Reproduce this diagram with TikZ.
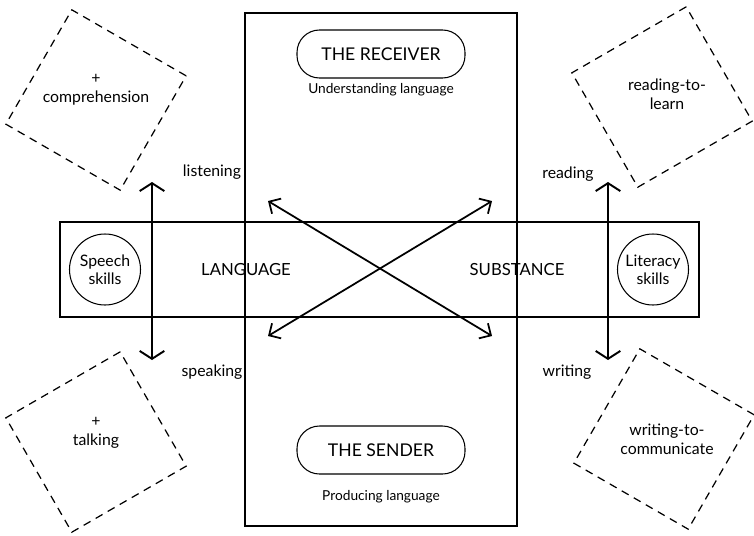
\documentclass[tikz,border=0pt]{standalone}
\usepackage{fontspec}
\setmainfont{Lato}
\usetikzlibrary{arrows.meta}

\begin{document}
\begin{tikzpicture}[
    thinbox/.style={draw,line width=0.6pt},
    dashsquare/.style={draw,dash pattern=on 4.5pt off 3.4pt,line width=0.7pt,minimum size=2.64cm,inner sep=0pt},
    skill/.style={draw,circle,line width=0.6pt,minimum size=1.42cm,inner sep=0pt,align=center,font=\fontsize{9}{10.4}\selectfont},
    pill/.style={draw,rounded corners=0.45cm,line width=0.6pt,minimum width=3.36cm,minimum height=0.96cm,font=\fontsize{10}{12}\selectfont},
    caps/.style={font=\fontsize{9.5}{11}\selectfont},
    small/.style={font=\fontsize{9}{11}\selectfont,align=center},
    sub/.style={font=\fontsize{7.8}{9}\selectfont},
    bigarrow/.style={{Straight Barb[length=4.5pt,width=14pt]}-{Straight Barb[length=4.5pt,width=14pt]},line width=1.1pt},
    crossarrow/.style={{Straight Barb[length=5pt,width=10pt]}-{Straight Barb[length=5pt,width=10pt]},line width=1pt}
  ]
        \useasboundingbox (0,0) rectangle (15.08,10.70);

        % the column and the band
        \draw[thinbox] (4.90,0.18) rectangle (10.34,10.44);
        \draw[thinbox] (1.20,4.36) rectangle (13.98,6.26);

        \node[pill] (recv) at ( 7.62, 9.62) {THE RECEIVER};
        \node[sub]  (und)  at ( 7.62, 8.90) {Understanding language};
        \node[pill] (send) at ( 7.62, 1.70) {THE SENDER};
        \node[sub]  (prod) at ( 7.62, 0.76) {Producing language};

        \node[skill] (speech) at ( 2.10, 5.31) {Speech\\skills};
        \node[skill] (lit)    at (13.06, 5.31) {Literacy\\skills};
        \node[caps]  (lang)   at ( 4.92, 5.31) {LANGUAGE};
        \node[caps]  (subst)  at (10.34, 5.31) {SUBSTANCE};

        \node[small] (listen) at ( 4.24, 7.26) {listening};
        \node[small] (speak)  at ( 4.24, 3.26) {speaking};
        \node[small] (read)   at (11.36, 7.22) {reading};
        \node[small] (write)  at (11.34, 3.26) {writing};

        % dashed squares
        \node[dashsquare,rotate=-30] (comp)  at ( 1.92, 8.70) {};
        \node[dashsquare,rotate=30]  (learn) at (13.24, 8.76) {};
        \node[dashsquare,rotate=30]  (talk)  at ( 1.92, 1.86) {};
        \node[dashsquare,rotate=-30] (comm)  at (13.28, 1.92) {};
        \node[small] (comptxt)  at ( 1.92, 8.90) {+\\comprehension};
        \node[small] (learntxt) at (13.34, 8.82) {reading-to-\\learn};
        \node[small] (talktxt)  at ( 1.92, 2.04) {+\\talking};
        \node[small] (commtxt)  at (13.34, 1.92) {writing-to-\\communicate};

        % arrows
        \coordinate (lt) at ( 3.04, 7.06);
        \coordinate (lb) at ( 3.04, 3.50);
        \coordinate (rt) at (12.16, 7.06);
        \coordinate (rb) at (12.16, 3.50);
        \coordinate (xul) at ( 5.36, 6.68);
        \coordinate (xll) at ( 5.36, 3.98);
        \coordinate (xur) at ( 9.84, 6.68);
        \coordinate (xlr) at ( 9.84, 3.98);

        \draw[bigarrow]   (lt) to (lb);
        \draw[bigarrow]   (rt) to (rb);
        \draw[crossarrow] (xul) to (xlr);
        \draw[crossarrow] (xll) to (xur);
      \end{tikzpicture}
\end{document}
